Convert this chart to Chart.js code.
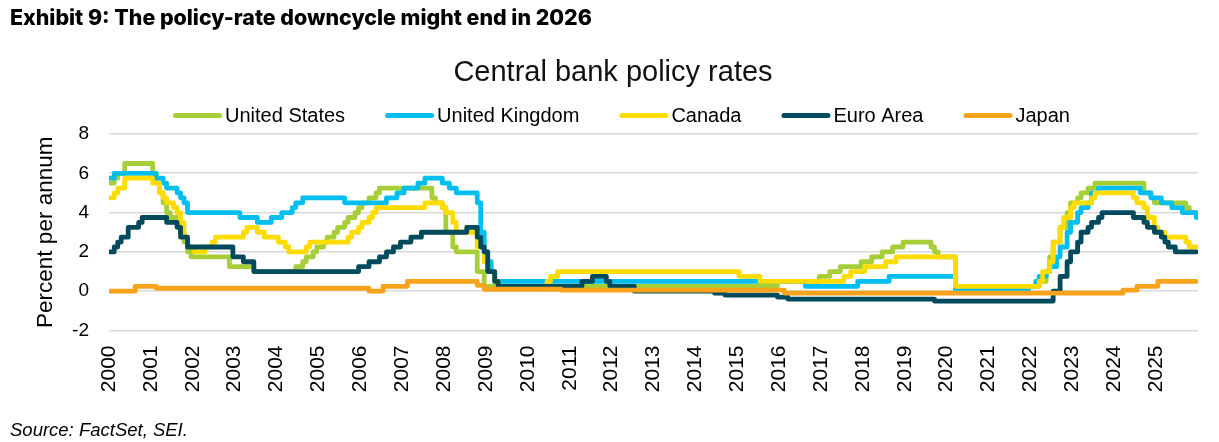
<!DOCTYPE html>
<html>
<head>
<meta charset="utf-8">
<script src="https://cdn.jsdelivr.net/npm/chart.js@4.4.1/dist/chart.umd.min.js"></script>
<style>
  html, body { margin: 0; padding: 0; background: #fff; }
  #wrap { position: relative; width: 1219px; height: 442px; overflow: hidden; }
  #exhibit { position: absolute; left: 10px; top: 4px; font: 800 21.4px Inter, "DejaVu Sans", sans-serif; color: #000; white-space: nowrap; }
  #source { position: absolute; left: 10px; top: 419px; font: italic 18.5px "Liberation Sans", Arial, sans-serif; color: #000; white-space: nowrap; }
  canvas { position: absolute; left: 0; top: 0; }
</style>
</head>
<body>
<div id="wrap">
  <canvas id="c" width="1219" height="442"></canvas>
  <div id="exhibit">Exhibit 9: The policy-rate downcycle might end in 2026</div>
  <div id="source">Source: FactSet, SEI.</div>
</div>
<script>
// ---- Data (policy-rate change points: [month, rate %]) ----
const seriesNames = ['United States', 'United Kingdom', 'Canada', 'Euro Area', 'Japan'];

const usRates = [
  ['2000-01',5.5],['2000-02',5.75],['2000-03',6.0],['2000-05',6.5],['2001-01',6.0],['2001-02',5.5],
  ['2001-03',5.0],['2001-04',4.5],['2001-05',4.0],['2001-06',3.75],['2001-08',3.5],['2001-09',3.0],
  ['2001-10',2.5],['2001-11',2.0],['2001-12',1.75],['2002-11',1.25],['2003-06',1.0],['2004-06',1.25],
  ['2004-08',1.5],['2004-09',1.75],['2004-11',2.0],['2004-12',2.25],['2005-02',2.5],['2005-03',2.75],
  ['2005-05',3.0],['2005-06',3.25],['2005-08',3.5],['2005-09',3.75],['2005-11',4.0],['2005-12',4.25],
  ['2006-01',4.5],['2006-03',4.75],['2006-05',5.0],['2006-06',5.25],['2007-09',4.75],['2007-10',4.5],
  ['2007-12',4.25],['2008-01',3.0],['2008-03',2.25],['2008-04',2.0],['2008-10',1.0],['2008-12',0.25],
  ['2015-12',0.5],['2016-12',0.75],['2017-03',1.0],['2017-06',1.25],['2017-12',1.5],['2018-03',1.75],
  ['2018-06',2.0],['2018-09',2.25],['2018-12',2.5],['2019-08',2.25],['2019-09',2.0],['2019-10',1.75],
  ['2020-03',0.25],['2022-03',0.5],['2022-05',1.0],['2022-06',1.75],['2022-07',2.5],['2022-09',3.25],
  ['2022-11',4.0],['2022-12',4.5],['2023-02',4.75],['2023-03',5.0],['2023-05',5.25],['2023-07',5.5],
  ['2024-09',5.0],['2024-11',4.75],['2024-12',4.5],['2025-09',4.25],['2025-10',4.0]
];

const ukRates = [
  ['2000-01',5.75],['2000-02',6.0],['2001-02',5.75],['2001-04',5.5],['2001-05',5.25],['2001-08',5.0],
  ['2001-09',4.75],['2001-10',4.5],['2001-11',4.0],['2003-02',3.75],['2003-07',3.5],['2003-11',3.75],
  ['2004-02',4.0],['2004-05',4.25],['2004-06',4.5],['2004-08',4.75],['2005-08',4.5],['2006-08',4.75],
  ['2006-11',5.0],['2007-01',5.25],['2007-05',5.5],['2007-07',5.75],['2007-12',5.5],['2008-02',5.25],
  ['2008-04',5.0],['2008-10',4.5],['2008-11',3.0],['2008-12',2.0],['2009-01',1.5],['2009-02',1.0],
  ['2009-03',0.5],['2016-08',0.25],['2017-11',0.5],['2018-08',0.75],['2020-03',0.1],['2021-12',0.25],
  ['2022-02',0.5],['2022-03',0.75],['2022-05',1.0],['2022-06',1.25],['2022-08',1.75],['2022-09',2.25],
  ['2022-11',3.0],['2022-12',3.5],['2023-02',4.0],['2023-03',4.25],['2023-05',4.5],['2023-06',5.0],
  ['2023-08',5.25],['2024-08',5.0],['2024-11',4.75],['2025-02',4.5],['2025-05',4.25],['2025-08',4.0],
  ['2025-12',3.75]
];

const caRates = [
  ['2000-01',4.75],['2000-02',5.0],['2000-03',5.25],['2000-05',5.75],['2001-01',5.5],['2001-03',5.0],
  ['2001-04',4.75],['2001-05',4.5],['2001-07',4.25],['2001-08',4.0],['2001-09',3.5],['2001-10',2.75],
  ['2001-11',2.25],['2002-01',2.0],['2002-04',2.25],['2002-06',2.5],['2002-07',2.75],['2003-03',3.0],
  ['2003-04',3.25],['2003-07',3.0],['2003-09',2.75],['2004-01',2.5],['2004-03',2.25],['2004-04',2.0],
  ['2004-09',2.25],['2004-10',2.5],['2005-09',2.75],['2005-10',3.0],['2005-12',3.25],['2006-01',3.5],
  ['2006-03',3.75],['2006-04',4.0],['2006-05',4.25],['2007-07',4.5],['2007-12',4.25],['2008-01',4.0],
  ['2008-03',3.5],['2008-04',3.0],['2008-10',2.25],['2008-12',1.5],['2009-01',1.0],['2009-03',0.5],
  ['2009-04',0.25],['2010-06',0.5],['2010-07',0.75],['2010-09',1.0],['2015-01',0.75],['2015-07',0.5],
  ['2017-07',0.75],['2017-09',1.0],['2018-01',1.25],['2018-07',1.5],['2018-10',1.75],['2020-03',0.25],
  ['2022-03',0.5],['2022-04',1.0],['2022-06',1.5],['2022-07',2.5],['2022-09',3.25],['2022-10',3.75],
  ['2022-12',4.25],['2023-01',4.5],['2023-06',4.75],['2023-07',5.0],['2024-06',4.75],['2024-07',4.5],
  ['2024-09',4.25],['2024-10',3.75],['2024-12',3.25],['2025-01',3.0],['2025-03',2.75],['2025-09',2.5],
  ['2025-10',2.25]
];

const euRates = [
  ['2000-01',2.0],['2000-02',2.25],['2000-03',2.5],['2000-04',2.75],['2000-06',3.25],['2000-09',3.5],
  ['2000-10',3.75],['2001-05',3.5],['2001-08',3.25],['2001-09',2.75],['2001-11',2.25],['2002-12',1.75],
  ['2003-03',1.5],['2003-06',1.0],['2005-12',1.25],['2006-03',1.5],['2006-06',1.75],['2006-08',2.0],
  ['2006-10',2.25],['2006-12',2.5],['2007-03',2.75],['2007-06',3.0],['2008-07',3.25],['2008-10',2.75],
  ['2008-11',2.25],['2008-12',2.0],['2009-01',1.0],['2009-03',0.5],['2009-04',0.25],['2011-04',0.5],
  ['2011-07',0.75],['2011-11',0.5],['2011-12',0.25],['2012-07',0.0],['2014-06',-0.1],['2014-09',-0.2],
  ['2015-12',-0.3],['2016-03',-0.4],['2019-09',-0.5],['2022-07',0.0],['2022-09',0.75],['2022-11',1.5],
  ['2022-12',2.0],['2023-02',2.5],['2023-03',3.0],['2023-05',3.25],['2023-06',3.5],['2023-08',3.75],
  ['2023-09',4.0],['2024-06',3.75],['2024-09',3.5],['2024-10',3.25],['2024-12',3.0],['2025-02',2.75],
  ['2025-03',2.5],['2025-04',2.25],['2025-06',2.0]
];

const jpRates = [
  ['2000-01',0.0],['2000-08',0.25],['2001-02',0.15],['2006-03',0.0],['2006-07',0.25],['2007-02',0.5],
  ['2008-10',0.3],['2008-12',0.1],['2010-10',0.05],['2016-02',-0.1],['2024-03',0.05],['2024-07',0.25],
  ['2025-01',0.5]
];

const yearTicks = [2000,2001,2002,2003,2004,2005,2006,2007,2008,2009,2010,2011,2012,
                   2013,2014,2015,2016,2017,2018,2019,2020,2021,2022,2023,2024,2025];
const yTicks = [-2, 0, 2, 4, 6, 8];
const seriesColors = ['#A6CE39', '#00BFF0', '#FFDC00', '#004A5E', '#F9A31C'];
const lastMonth = 2025.96;

// ---- Build points ----
function toPoints(changes) {
  const pts = changes.map(([m, v], i) => {
    const [y, mo] = m.split('-').map(Number);
    const x = i === 0 ? yearTicks[0] : y + (mo - 0.5) / 12;
    return { x, y: v };
  });
  pts.push({ x: lastMonth, y: changes[changes.length - 1][1] });
  return pts;
}
const allSeries = [usRates, ukRates, caRates, euRates, jpRates];

const datasets = allSeries.map((s, i) => ({
  label: seriesNames[i],
  data: toPoints(s),
  borderColor: seriesColors[i],
  backgroundColor: seriesColors[i],
  borderWidth: 4.8,
  pointRadius: 0,
  stepped: true,
  fill: false,
  borderJoinStyle: 'round',
  borderCapStyle: 'round',
  order: allSeries.length - i
}));

const FONT = '"Liberation Sans", Arial, sans-serif';

const lineLegend = {
  id: 'lineLegend',
  afterDraw(chart) {
    const ctx = chart.ctx;
    ctx.save();
    ctx.font = '20px ' + FONT;
    const lineLen = 44, cap = 2.5, gapText = 3, gapItem = 40;
    const items = chart.data.datasets.map(ds => ({ label: ds.label, color: ds.borderColor, w: ctx.measureText(ds.label).width }));
    const total = items.reduce((s, it) => s + lineLen + 2 * cap + gapText + it.w, 0) + gapItem * (items.length - 1);
    let x = 621.5 - total / 2;
    const y = 115.5;
    items.forEach(it => {
      ctx.strokeStyle = it.color;
      ctx.lineWidth = 5;
      ctx.lineCap = 'round';
      ctx.beginPath();
      ctx.moveTo(x + cap, y);
      ctx.lineTo(x + cap + lineLen, y);
      ctx.stroke();
      x += lineLen + 2 * cap + gapText;
      ctx.fillStyle = '#000';
      ctx.textAlign = 'left';
      ctx.textBaseline = 'alphabetic';
      ctx.fillText(it.label, x, 121.5);
      x += it.w + gapItem;
    });
    ctx.restore();
  }
};

new Chart(document.getElementById('c'), {
  type: 'line',
  data: { datasets },
  plugins: [lineLegend],
  options: {
    responsive: false,
    animation: false,
    devicePixelRatio: 1,
    layout: { padding: { top: 0, left: 28, right: 21, bottom: 0 } },
    plugins: {
      legend: { display: false },
      tooltip: { enabled: false },
      title: {
        display: true,
        text: 'Central bank policy rates',
        color: '#111',
        font: { family: FONT, size: 29, weight: 'normal', lineHeight: 1.2 },
        padding: { top: 55.6, bottom: 43.6 }
      }
    },
    scales: {
      x: {
        type: 'linear',
        min: yearTicks[0],
        max: yearTicks[yearTicks.length - 1] + 1,
        afterBuildTicks: (scale) => { scale.ticks = yearTicks.map(v => ({ value: v })); },
        afterFit: (scale) => { scale.height = 111.5; },
        grid: { display: false, drawTicks: false },
        border: { display: false },
        ticks: {
          autoSkip: false,
          maxRotation: 90,
          minRotation: 90,
          padding: 15,
          color: '#000',
          font: { family: FONT, size: 21 },
          callback: (v) => String(v)
        }
      },
      y: {
        min: yTicks[0],
        max: yTicks[yTicks.length - 1],
        afterBuildTicks: (scale) => { scale.ticks = yTicks.map(v => ({ value: v })); },
        afterFit: (scale) => { scale.width = 81; },
        grid: { color: '#D9D9D9', lineWidth: 1.6, drawTicks: false },
        border: { display: false },
        ticks: {
          padding: 20,
          color: '#000',
          font: { family: FONT, size: 19 }
        },
        title: {
          display: true,
          text: 'Percent per annum',
          color: '#000',
          font: { family: FONT, size: 22.5, lineHeight: 1.2 },
          padding: { top: 4.5, bottom: 0 }
        }
      }
    }
  }
});
</script>
</body>
</html>
